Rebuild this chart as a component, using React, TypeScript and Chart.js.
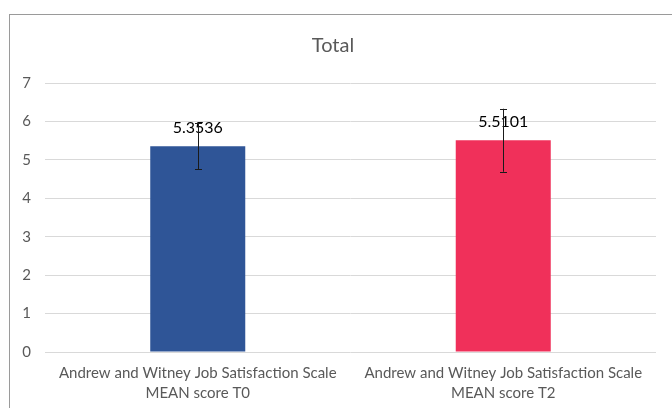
import React, { useEffect, useRef } from "react";
import { Chart, registerables } from "chart.js";

Chart.register(...registerables);

const categoryLine1 = [
  "Andrew and Witney Job Satisfaction Scale",
  "Andrew and Witney Job Satisfaction Scale",
];
const categoryLine2 = ["MEAN score T0", "MEAN score T2"];
const meanValues = [5.3536, 5.5101];
const errorAmounts = [0.6, 0.82];
const barColors = ["#2F5597", "#F0305A"];
const yTicks = [0, 1, 2, 3, 4, 5, 6, 7];

const FONT = "Lato, 'Noto Sans', sans-serif";

const labelsAndErrors = {
  id: "labelsAndErrors",
  afterDatasetsDraw(chart: any) {
    const ctx = chart.ctx;
    const meta = chart.getDatasetMeta(0);
    const yScale = chart.scales.y;
    ctx.save();
    // data labels
    ctx.font = `16px ${FONT}`;
    ctx.fillStyle = "#000000";
    ctx.textAlign = "center";
    ctx.textBaseline = "middle";
    meta.data.forEach((bar: any, i: number) => {
      ctx.fillText(meanValues[i].toFixed(4), bar.x, bar.y - 18);
    });
    // error bars
    ctx.strokeStyle = "#1a1a1a";
    ctx.lineWidth = 1;
    meta.data.forEach((bar: any, i: number) => {
      const x = Math.round(bar.x) + 0.5;
      const yTop = yScale.getPixelForValue(meanValues[i] + errorAmounts[i]);
      const yBot = yScale.getPixelForValue(meanValues[i] - errorAmounts[i]);
      ctx.beginPath();
      ctx.moveTo(x, yTop);
      ctx.lineTo(x, yBot);
      ctx.moveTo(x - 3.5, Math.round(yTop) + 0.5);
      ctx.lineTo(x + 3.5, Math.round(yTop) + 0.5);
      ctx.moveTo(x - 3.5, Math.round(yBot) + 0.5);
      ctx.lineTo(x + 3.5, Math.round(yBot) + 0.5);
      ctx.stroke();
    });
    ctx.restore();
  },
};

export default function App() {
  const canvasRef = useRef<HTMLCanvasElement | null>(null);

  useEffect(() => {
    if (!canvasRef.current) return;
    const chart = new Chart(canvasRef.current, {
      type: "bar",
      data: {
        labels: categoryLine1.map((l, i) => [l, categoryLine2[i]]),
        datasets: [
          {
            data: meanValues,
            backgroundColor: barColors,
            borderWidth: 0,
            categoryPercentage: 1,
            barPercentage: 0.311,
          },
        ],
      },
      options: {
        responsive: false,
        animation: false,
        devicePixelRatio: 1,
        layout: { padding: { left: 10, right: 16, top: 15, bottom: 5 } },
        plugins: {
          legend: { display: false },
          tooltip: { enabled: false },
          title: {
            display: true,
            text: "Total",
            color: "#595959",
            font: { family: FONT, size: 20, weight: "normal" },
            padding: { top: 19, bottom: 25 },
          },
        },
        scales: {
          x: {
            grid: { display: false, drawTicks: false },
            border: { display: false },
            afterFit(scale: any) {
              scale.height = 51;
            },
            ticks: {
              color: "#595959",
              font: { family: FONT, size: 15, lineHeight: 1.33 },
              maxRotation: 0,
              autoSkip: false,
              padding: 11,
            },
          },
          y: {
            min: 0,
            max: 7,
            afterBuildTicks(scale: any) {
              scale.ticks = yTicks.map((v) => ({ value: v }));
            },
            afterFit(scale: any) {
              scale.width = 35;
            },
            grid: { color: "#D9D9D9", lineWidth: 1, drawTicks: false },
            border: { display: false },
            ticks: {
              color: "#595959",
              font: { family: FONT, size: 15 },
              padding: 14,
            },
          },
        },
      },
      plugins: [labelsAndErrors],
    });
    return () => chart.destroy();
  }, []);

  return (
    <div
      style={{
        position: "fixed",
        left: 0,
        top: 0,
        width: 672,
        height: 408,
        overflow: "hidden",
        background: "#ffffff",
      }}
    >
      <div
        style={{
          position: "absolute",
          left: 9,
          top: 14,
          width: 720,
          height: 500,
          border: "1px solid #9a9a9a",
        }}
      />
      <canvas
        ref={canvasRef}
        width={672}
        height={408}
        style={{ position: "absolute", left: 0, top: 0 }}
      />
    </div>
  );
}
